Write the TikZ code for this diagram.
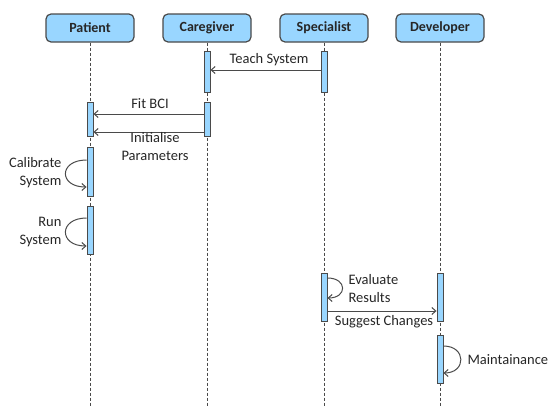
\documentclass[tikz,border=0pt]{standalone}
\usepackage{fontspec}
\setmainfont{Carlito}
\usetikzlibrary{arrows.meta}
\definecolor{boxc}{HTML}{99D6FF}
\definecolor{linec}{HTML}{4A4A4A}
\begin{document}
\begin{tikzpicture}[x=1pt, y=-1pt,
		every node/.style={font=\fontsize{14.5}{18}\selectfont, text=black!85},
		head/.style={draw=linec, line width=1.2pt, fill=boxc, rounded corners=5pt, minimum width=88pt, minimum height=28pt, font=\bfseries\fontsize{14}{16}\selectfont},
		bar/.style={draw=linec, line width=0.9pt, fill=boxc, minimum width=6pt, inner sep=0pt},
		life/.style={draw=linec, line width=0.8pt, dash pattern=on 3pt off 2pt},
		msg/.style={draw=linec, line width=1pt, -{Straight Barb[length=4pt, width=7pt]}}]
	\useasboundingbox (0,0) rectangle (549,407);

	% lifeline heads
	\node[head] (pat) at (90, 28) {Patient};
	\node[head] (car) at (207, 28) {Caregiver};
	\node[head] (spe) at (324, 28) {Specialist};
	\node[head] (dev) at (440, 28) {Developer};

	\coordinate (patend) at (90, 407);
	\coordinate (carend) at (207, 407);
	\coordinate (speend) at (324, 407);
	\coordinate (devend) at (440, 407);

	\draw[life] (pat) -- (patend);
	\draw[life] (car) -- (carend);
	\draw[life] (spe) -- (speend);
	\draw[life] (dev) -- (devend);

	% activation bars
	\node[bar, minimum height=41pt] (car1) at (207, 71.5) {};
	\node[bar, minimum height=41pt] (spe1) at (324, 71.5) {};
	\node[bar, minimum height=34pt] (pat1) at (90, 119) {};
	\node[bar, minimum height=34pt] (car2) at (207, 119.5) {};
	\node[bar, minimum height=49pt] (pat2) at (90, 171.5) {};
	\node[bar, minimum height=48pt] (pat3) at (90, 230) {};
	\node[bar, minimum height=48pt] (spe2) at (324, 297) {};
	\node[bar, minimum height=48pt] (dev1) at (440, 297) {};
	\node[bar, minimum height=48pt] (dev2) at (440, 359) {};

	% messages
	\draw[msg] (spe1.west |- 0,70) -- (car1.east |- 0,70);
	\draw[msg] (car2.west |- 0,114) -- (pat1.east |- 0,114);
	\draw[msg] (car2.west |- 0,132) -- (pat1.east |- 0,132);
	\draw[msg] (pat2.west |- 0,160) to[out=180, in=180, distance=28pt] (pat2.west |- 0,187);
	\draw[msg] (pat3.west |- 0,218) to[out=180, in=180, distance=28pt] (pat3.west |- 0,246);
	\draw[msg] (spe2.east |- 0,278) to[out=0, in=0, distance=20pt] (spe2.east |- 0,298);
	\draw[msg] (spe2.east |- 0,311) -- (dev1.west |- 0,311);
	\draw[msg] (dev2.east |- 0,346) to[out=0, in=0, distance=23pt] (dev2.east |- 0,373);

	% labels
	\node (teach) at (269, 60) {Teach System};
	\node (fit) at (150, 104) {Fit BCI};
	\node[align=center] (init) at (155, 147) {Initialise\\Parameters};
	\node[align=right, anchor=east] (calib) at (65, 173) {Calibrate\\System};
	\node[align=right, anchor=east] (run) at (65, 232) {Run\\System};
	\node[align=left, anchor=west] (eval) at (345, 289) {Evaluate\\Results};
	\node (sugg) at (384, 322) {Suggest Changes};
	\node[anchor=west] (maint) at (464, 360) {Maintainance};
\end{tikzpicture}
\end{document}
